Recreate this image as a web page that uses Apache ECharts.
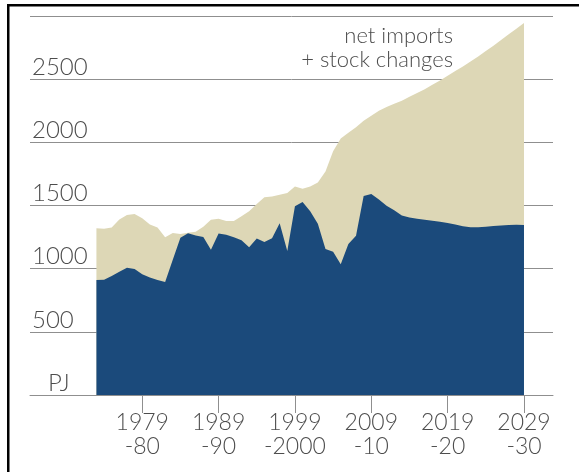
<!DOCTYPE html>
<html>
<head>
<meta charset="utf-8">
<script src="https://cdn.jsdelivr.net/npm/echarts@6/dist/echarts.min.js"></script>
<style>
  html, body {margin: 0; padding: 0; background: #fff;}
  #chart {width: 579px; height: 472px;}
</style>
</head>
<body>
<div id="chart"></div>
<script>
// fiscal years 1973-74 ... 2029-30, values in PJ
const years = []
for (let y = 1973; y <= 2029; y++) years.push(y)

const indigenous = [
  910, 912, 942, 976, 1008, 998, 955, 930, 910, 895,
  1070, 1245, 1280, 1262, 1250, 1150, 1278, 1268, 1248, 1225,
  1170, 1238, 1212, 1240, 1360, 1140, 1495, 1528, 1455, 1355,
  1155, 1133, 1035, 1195, 1260, 1575, 1592, 1548, 1498, 1462,
  1420, 1405, 1395, 1388, 1380, 1372, 1362, 1350, 1335, 1328,
  1328, 1332, 1337, 1341, 1345, 1348, 1345
]

// indigenous + net imports + stock changes
const total = [
  1320, 1315, 1325, 1390, 1425, 1432, 1400, 1350, 1325, 1248,
  1282, 1275, 1285, 1292, 1332, 1388, 1396, 1378, 1378, 1415,
  1455, 1512, 1565, 1572, 1585, 1598, 1650, 1632, 1650, 1682,
  1770, 1930, 2030, 2075, 2120, 2170, 2210, 2250, 2280, 2305,
  2330, 2360, 2390, 2420, 2455, 2490, 2528, 2565, 2600, 2640,
  2680, 2722, 2765, 2810, 2855, 2900, 2945
]

const tickYears = [1979, 1989, 1999, 2009, 2019, 2029]
const tickLabels = ['1979\n-80', '1989\n-90', '1999\n-2000', '2009\n-10', '2019\n-20', '2029\n-30']

const FONT = 'Lato, "Open Sans", sans-serif'
const TEXT = '#4d4d4d'
const GRID_LINE = '#8f8f8f'

const chart = echarts.init(document.getElementById('chart'))

chart.setOption({
  animation: false,
  backgroundColor: '#fff',
  grid: {left: 30, right: 26, top: 16, bottom: 77},
  xAxis: {
    type: 'value',
    min: 1964.3,
    max: 2032.8,
    axisLine: {show: true, lineStyle: {color: GRID_LINE, width: 1}},
    axisTick: {show: true, customValues: tickYears, length: 18, lineStyle: {color: GRID_LINE}},
    axisLabel: {
      customValues: tickYears,
      margin: 16,
      fontFamily: FONT,
      fontWeight: 300,
      fontSize: 23,
      lineHeight: 24,
      color: TEXT,
      formatter: v => tickLabels[tickYears.indexOf(v)] || ''
    },
    splitLine: {show: false}
  },
  yAxis: {
    type: 'value',
    min: 0,
    max: 3000,
    interval: 500,
    axisLine: {show: false},
    axisTick: {show: false},
    splitLine: {lineStyle: {color: GRID_LINE, width: 1}},
    axisLabel: {
      inside: true,
      margin: 2,
      align: 'left',
      verticalAlign: 'bottom',
      fontFamily: FONT,
      fontWeight: 300,
      fontSize: 24,
      color: TEXT,
      formatter: v => v === 0 ? '{pj|PJ}' : (v === 3000 ? '' : String(v)),
      rich: {
        pj: {fontFamily: FONT, fontWeight: 300, fontSize: 24, color: TEXT, padding: [0, 0, 0, 16]}
      }
    }
  },
  series: [
    {
      // total drawn first, indigenous on top of it
      name: 'net imports + stock changes',
      type: 'line',
      symbol: 'none',
      lineStyle: {width: 0},
      areaStyle: {color: '#ddd7b6', opacity: 1},
      data: years.map((y, i) => [y, total[i]])
    },
    {
      name: 'indigenous production',
      type: 'line',
      symbol: 'none',
      lineStyle: {width: 0},
      areaStyle: {color: '#1b4a7b', opacity: 1},
      data: years.map((y, i) => [y, indigenous[i]])
    }
  ],
  graphic: [
    {type: 'rect', shape: {x: 7, y: 4, width: 2.5, height: 470}, style: {fill: '#000'}},
    {type: 'rect', shape: {x: 7, y: 4, width: 575, height: 2.5}, style: {fill: '#000'}},
    {
      type: 'text', right: 126, top: 25,
      style: {text: 'net imports', font: '300 22px ' + FONT, fill: TEXT, align: 'right'}
    },
    {
      type: 'text', right: 126, top: 49,
      style: {text: '+ stock changes', font: '300 22px ' + FONT, fill: TEXT, align: 'right'}
    },
    {
      type: 'text', left: 232, top: 312,
      style: {text: 'indigenous production', font: '300 22px ' + FONT, fill: '#fff'}
    }
  ]
})
</script>
</body>
</html>
